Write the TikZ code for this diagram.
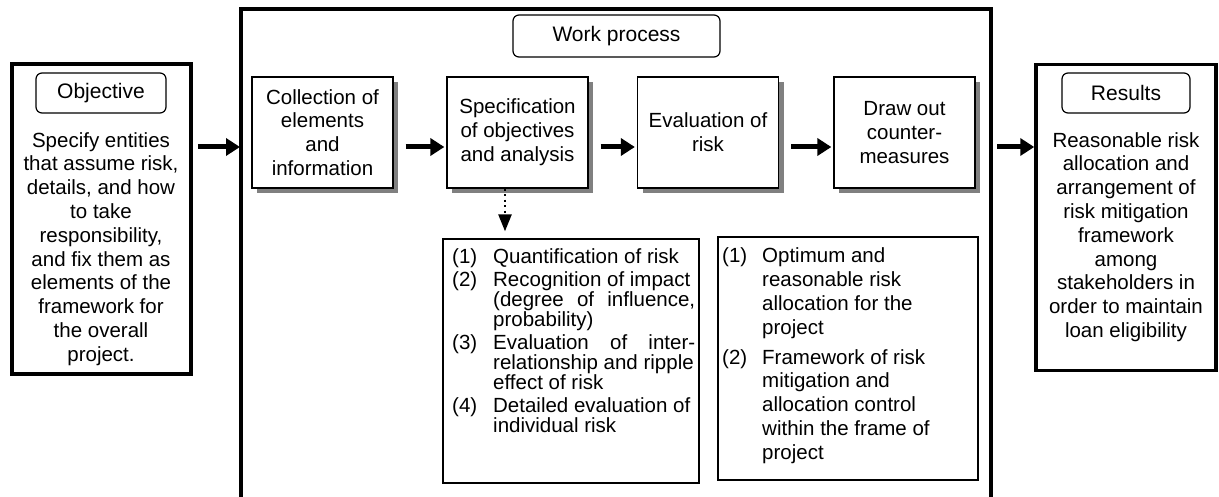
\documentclass[tikz,border=0pt]{standalone}
\usepackage{fontspec}
\setmainfont{Liberation Sans}
\usetikzlibrary{arrows.meta,positioning,shadows}

\begin{document}
\begin{tikzpicture}[x=1pt, y=-1pt,
 frame/.style={draw, line width=3.5pt, inner sep=0pt},
 tag/.style={draw, line width=1.2pt, rounded corners=6pt, inner sep=0pt,
   font=\fontsize{21}{23.8}\selectfont},
 stepbox/.style={draw, line width=1.3pt, fill=white, inner sep=0pt,
   minimum width=141pt, minimum height=111pt, align=center,
   font=\fontsize{20.5}{23.8}\selectfont,
   drop shadow={shadow xshift=5pt, shadow yshift=-5pt, fill=black!50, opacity=1}},
 listbox/.style={draw, line width=1.3pt, inner sep=0pt},
 body/.style={inner sep=0pt, align=center, font=\fontsize{20.5}{23.8}\selectfont},
 bigarrow/.style={line width=5pt, -{Triangle[length=14pt, width=17pt]}}
]
\useasboundingbox (0,0) rectangle (1219,497);

\def\arrowy{147}
\newcommand{\fit}[1]{\makebox[202pt][s]{#1}}

% work process frame, open at the bottom
\draw[line width=3.5pt] (241,497) -- (241,9) -- (991,9) -- (991,497);
\coordinate (wpl) at (240,\arrowy);
\coordinate (wpr) at (992,\arrowy);
\node (wptag) at (616.5,36) [tag, minimum width=207pt, minimum height=42pt] {Work process};

% objective
\node (obj) at (101.5,219) [frame, minimum width=179pt, minimum height=310pt] {};
\node (objtag) at (101,93) [tag, minimum width=130pt, minimum height=40pt] {Objective};
\node (objtxt) at (101,132) [body, anchor=north] {Specify entities\\that assume risk,\\details, and how\\to take\\responsibility,\\and fix them as\\elements of the\\framework for\\the overall\\project.};

% results
\node (res) at (1126,217.5) [frame, minimum width=180pt, minimum height=306pt] {};
\node (restag) at (1126,93) [tag, minimum width=128pt, minimum height=40pt] {Results};
\node (restxt) at (1126,132) [body, anchor=north] {Reasonable risk\\allocation and\\arrangement of\\risk mitigation\\framework\\among\\stakeholders in\\order to maintain\\loan eligibility};

% steps
\node (collect) at (322.5,132.5) [stepbox] {Collection of\\elements\\and\\information};
\node (spec) at (517.5,132.5) [stepbox] {Specification\\of objectives\\and analysis};
\node (eval) at (708,132.5) [stepbox] {Evaluation of\\risk};
\node (counter) at (904.5,132.5) [stepbox] {Draw out\\counter-\\measures};

\draw[bigarrow, shorten <=5pt] (obj.east |- wpl) -- (wpl);
\foreach \a/\b in {collect/spec, spec/eval, eval/counter}
 \draw[bigarrow, shorten <=12pt, shorten >=2pt] (\a.east |- wpl) -- (\b.west |- wpl);
\draw[bigarrow, shorten <=5pt] (wpr) -- (res.west |- wpr);

% lists below
\node (analysis) at (571,361) [listbox, minimum width=256pt, minimum height=244pt] {};
\node (measures) at (848,358.5) [listbox, minimum width=260pt, minimum height=243pt] {};

\draw[line width=2.5pt, dash pattern=on 2pt off 3.5pt, -{Triangle[length=17pt, width=13pt]},
  shorten >=7pt] ([xshift=-12.5pt]spec.south) -- ([xshift=-66pt]analysis.north);

\node (analysistxt) at (452,264) [anchor=base west, inner sep=0pt,
  font=\fontsize{20.5}{20}\selectfont]
 {\begin{tabular}[t]{@{}p{41pt}@{}p{202pt}@{}}
 (1) & Quantification of risk\\[2pt]
 (2) & Recognition of impact\newline \fit{(degree of influence,}\newline probability)\\[2pt]
 (3) & \fit{Evaluation of inter-}\newline relationship and ripple\newline effect of risk\\[2pt]
 (4) & Detailed evaluation of\newline individual risk
 \end{tabular}};

\node (measurestxt) at (722,263) [anchor=base west, inner sep=0pt,
  font=\fontsize{20.5}{23.8}\selectfont]
 {\begin{tabular}[t]{@{}p{40pt}@{}p{210pt}@{}}
 (1) & Optimum and\newline reasonable risk\newline allocation for the\newline project\\[6pt]
 (2) & Framework of risk\newline mitigation and\newline allocation control\newline within the frame of\newline project
 \end{tabular}};

\end{tikzpicture}
\end{document}
